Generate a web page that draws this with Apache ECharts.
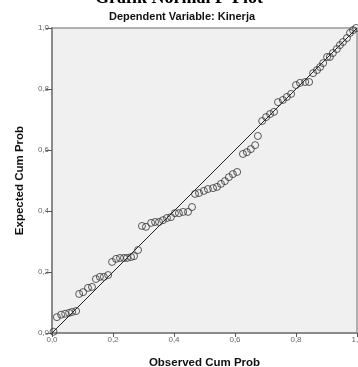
<!DOCTYPE html>
<html>
<head>
<meta charset="utf-8">
<script src="https://cdn.jsdelivr.net/npm/echarts@6/dist/echarts.min.js"></script>
<style>
html,body{margin:0;padding:0;background:#fff;}
#chart{width:358px;height:367px;}
</style>
</head>
<body>
<div id="chart"></div>
<script>
// Observed cumulative probability (x) and expected cumulative probability (y)
var observedCumProb = [
  0.005,
  0.016, 0.030, 0.043, 0.056, 0.066, 0.079,
  0.089, 0.102, 0.118, 0.131, 0.144, 0.157, 0.170, 0.184,
  0.197, 0.210, 0.223, 0.236, 0.246, 0.259, 0.269, 0.282,
  0.295, 0.308, 0.325, 0.338, 0.351, 0.364, 0.377, 0.390, 0.403, 0.416, 0.430, 0.446, 0.459,
  0.469, 0.482, 0.498, 0.511, 0.528, 0.541, 0.554, 0.567, 0.580, 0.593, 0.607,
  0.626, 0.639, 0.652, 0.666, 0.675,
  0.689, 0.702, 0.715, 0.728, 0.741, 0.757, 0.770, 0.784, 0.800, 0.813, 0.830, 0.843,
  0.856, 0.869, 0.879, 0.889, 0.902, 0.911, 0.921, 0.934, 0.944, 0.954, 0.967, 0.977, 0.987, 0.997
];
var expectedCumProb = [
  0.004,
  0.052, 0.060, 0.063, 0.066, 0.069, 0.072,
  0.128, 0.134, 0.148, 0.151, 0.177, 0.184, 0.184, 0.190,
  0.233, 0.243, 0.246, 0.246, 0.246, 0.249, 0.252, 0.272,
  0.351, 0.348, 0.361, 0.364, 0.364, 0.370, 0.377, 0.380, 0.393, 0.393, 0.397, 0.397, 0.413,
  0.456, 0.459, 0.466, 0.472, 0.475, 0.479, 0.489, 0.498, 0.511, 0.521, 0.528,
  0.587, 0.593, 0.603, 0.616, 0.646,
  0.695, 0.708, 0.718, 0.725, 0.757, 0.764, 0.774, 0.784, 0.813, 0.820, 0.823, 0.823,
  0.852, 0.862, 0.872, 0.885, 0.905, 0.905, 0.918, 0.931, 0.944, 0.954, 0.967, 0.984, 0.993, 1.000
];
var referenceLine = [0, 1];
var tickValues = [0, 0.2, 0.4, 0.6, 0.8, 1.0];

var titleText = 'Grafik Normal P-Plot';
var subtitleText = 'Dependent Variable: Kinerja';
var xName = 'Observed Cum Prob';
var yName = 'Expected Cum Prob';

var points = observedCumProb.map(function (x, i) { return [x, expectedCumProb[i]]; });
var linePts = referenceLine.map(function (v) { return [v, v]; });

function fmt(v) { return v.toFixed(1).replace('.', ','); }

var axisCommon = {
  type: 'value', min: 0, max: 1, interval: 0.2,
  nameLocation: 'middle',
  nameTextStyle: { fontFamily: 'Liberation Sans', fontWeight: 'bold', fontSize: 11.5, color: '#111' },
  axisLine: { show: true, lineStyle: { color: '#8a8a8a', width: 2 } },
  axisTick: { show: true, length: 5, lineStyle: { color: '#555', width: 1 } },
  axisLabel: { fontFamily: 'Liberation Sans', fontSize: 8, color: '#666', formatter: fmt },
  splitLine: { show: false }
};

var chart = echarts.init(document.getElementById('chart'), null, { renderer: 'canvas' });
chart.setOption({
  animation: false,
  backgroundColor: '#ffffff',
  grid: { left: 52, top: 28, width: 305, height: 305, show: true,
          outerBoundsMode: 'none', containLabel: false,
          backgroundColor: '#f0f0f0', borderColor: '#999', borderWidth: 1.5 },
  graphic: [
    { type: 'text', left: 'center', top: -11,
      style: { text: titleText, font: 'bold 18px "Liberation Serif"', fill: '#000' } },
    { type: 'text', x: 182, y: 17,
      style: { text: subtitleText, font: 'bold 11px "Liberation Sans"', fill: '#111',
               align: 'center', verticalAlign: 'middle' } }
  ],
  xAxis: Object.assign({}, axisCommon, {
    name: xName, nameGap: 24,
    axisTick: { show: true, length: 4, lineStyle: { color: '#555', width: 1 } },
    axisLabel: Object.assign({}, axisCommon.axisLabel, { margin: 3 })
  }),
  yAxis: Object.assign({}, axisCommon, {
    name: yName, nameGap: 26,
    axisTick: { show: true, length: 6, lineStyle: { color: '#555', width: 1 } },
    axisLabel: Object.assign({}, axisCommon.axisLabel, { margin: 3 })
  }),
  series: [
    { type: 'line', data: linePts, showSymbol: false, symbol: 'none',
      lineStyle: { color: '#222', width: 1 }, silent: true, z: 2 },
    { type: 'scatter', data: points, symbol: 'circle', symbolSize: 7,
      itemStyle: { color: 'rgba(0,0,0,0)', borderColor: '#333', borderWidth: 1 }, z: 3 }
  ]
});
</script>
</body>
</html>
